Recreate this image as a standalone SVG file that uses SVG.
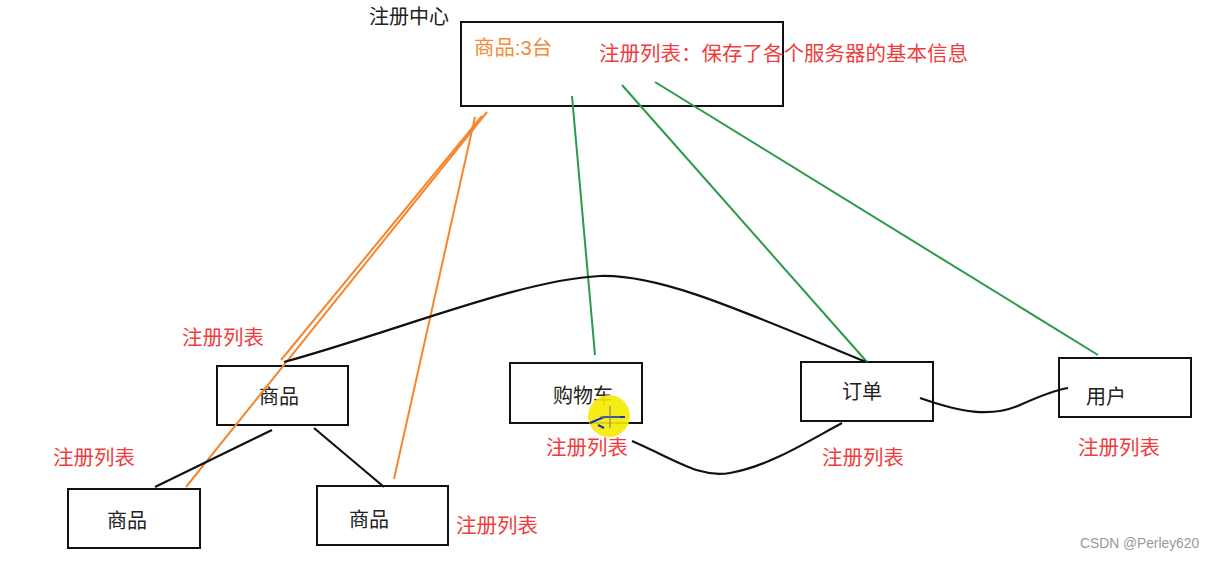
<svg xmlns="http://www.w3.org/2000/svg" width="1215" height="561" viewBox="0 0 1215 561">
<style>
.box{fill:#fff;stroke:#111;stroke-width:2}
.t{font-family:"Liberation Sans","Noto Sans CJK SC",sans-serif;fill:#222;font-size:20px}
.red{font-family:"Liberation Sans","Noto Sans CJK SC",sans-serif;fill:#f03c3c;font-size:20.5px}
.org{font-family:"Liberation Sans","Noto Sans CJK SC",sans-serif;fill:#f58a3a;font-size:20.4px}
.o{stroke:#f5862e;stroke-width:2;fill:none}
.g{stroke:#2a9a4a;stroke-width:2;fill:none}
.k{stroke:#111;stroke-width:2.2;fill:none}
</style>
<rect width="1215" height="561" fill="#fff"/>
<g id="center">
<rect class="box" x="461" y="22" width="322" height="84"/>
<text class="t" x="369" y="24">注册中心</text>
<text class="org" x="474" y="55">商品:3台</text>
<text class="red" x="599" y="61">注册列表：保存了各个服务器的基本信息</text>
</g>
<g id="svc-goods">
<rect class="box" x="217" y="366" width="131" height="59"/>
<text class="t" x="279" y="404" text-anchor="middle">商品</text>
<text class="red" x="182" y="345">注册列表</text>
</g>
<g id="svc-cart">
<rect class="box" x="510" y="363" width="132" height="60"/>
<text class="t" x="583" y="403" text-anchor="middle">购物车</text>
<text class="red" x="546" y="455">注册列表</text>
</g>
<g id="svc-order">
<rect class="box" x="801" y="362" width="132" height="59"/>
<text class="t" x="862" y="399" text-anchor="middle">订单</text>
<text class="red" x="822" y="465">注册列表</text>
</g>
<g id="svc-user">
<rect class="box" x="1059" y="358" width="132" height="59"/>
<text class="t" x="1106" y="404" text-anchor="middle">用户</text>
<text class="red" x="1078" y="455">注册列表</text>
</g>
<g id="svc-goods2">
<rect class="box" x="68" y="489" width="132" height="59"/>
<text class="t" x="127" y="528" text-anchor="middle">商品</text>
<text class="red" x="53" y="465">注册列表</text>
</g>
<g id="svc-goods3">
<rect class="box" x="317" y="486" width="131" height="59"/>
<text class="t" x="369" y="527" text-anchor="middle">商品</text>
<text class="red" x="456" y="533">注册列表</text>
</g>
<g id="connectors">
<path class="o" d="M482 116 L281 360"/>
<path class="o" d="M487 112 L186 487"/>
<path class="o" d="M475 117 L394 479"/>
<path class="g" d="M572 96 L595 355"/>
<path class="g" d="M622 85 L867 362"/>
<path class="g" d="M655 82 L1098 355"/>
<path class="k" d="M284 362 C400 330 520 280 600 276 C660 274 740 310 866 362"/>
<path class="k" d="M272 430 L155 487"/>
<path class="k" d="M314 428 L384 487"/>
<path class="k" d="M632 441 C680 462 700 478 730 473 C770 466 810 440 842 423"/>
<path class="k" d="M920 398 C960 412 990 418 1020 405 C1040 396 1055 390 1068 388"/>
</g>
<g id="cursor">
<circle cx="609" cy="416" r="21" fill="#f5ea00" opacity="0.9"/>
<path d="M590 423 L604 417 L625 417 M598 425 L604 428" stroke="#1a2fc8" stroke-width="2" fill="none"/>
<path d="M610 406 L610 428 M600 417 L620 417" stroke="#777" stroke-width="1" fill="none"/>
</g>
<text x="1080" y="548" font-family="Liberation Sans,sans-serif" font-size="13.8" fill="#999">CSDN @Perley620</text>
</svg>
